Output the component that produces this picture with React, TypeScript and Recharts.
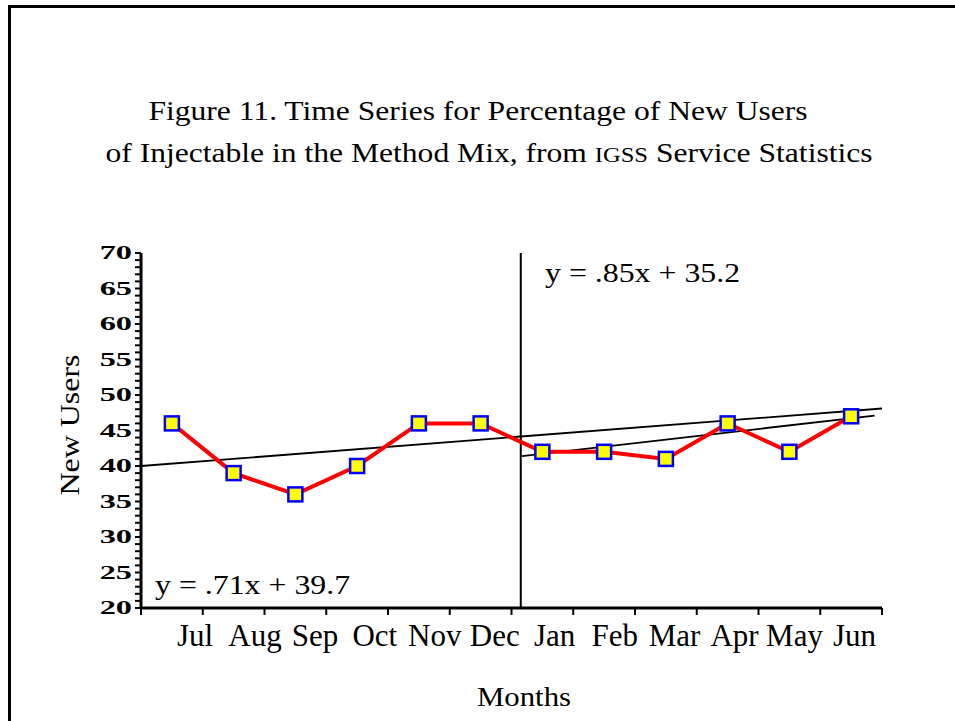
import { LineChart, Line, XAxis, YAxis, ReferenceLine } from "recharts";

const FONT = "'Liberation Serif', 'Times New Roman', serif";

const MONTHS = ["Jul", "Aug", "Sep", "Oct", "Nov", "Dec", "Jan", "Feb", "Mar", "Apr", "May", "Jun"];
const NEW_USERS = [46, 39, 36, 40, 46, 46, 42, 42, 41, 46, 42, 47];

// trend lines (x = month index, 1-based)
const TREND_ALL = [
  { x: 0.5, y: 40.0 },
  { x: 12.5, y: 48.1 },
];
const TREND_AFTER = [
  { x: 6.67, y: 41.4 },
  { x: 12.38, y: 47.1 },
];
const BREAK_X = 6.65;

const X_TICKS = [0.5, 1.5, 2.5, 3.5, 4.5, 5.5, 6.5, 7.5, 8.5, 9.5, 10.5, 11.5, 12.5];
const Y_TICKS = Array.from({ length: 51 }, (_, i) => 20 + i);

const data = MONTHS.map((m, i) => ({ x: i + 1, month: m, value: NEW_USERS[i] }));

function SquareDot(props: any) {
  const { cx, cy, index } = props;
  if (cx == null || cy == null) return null;
  return (
    <rect key={index} x={cx - 7} y={cy - 7} width={14} height={14} fill="#ffff00" stroke="#0000ff" strokeWidth={2.5} />
  );
}

// labels sit a bit right of the boundary ticks, drifting left along the axis
function MonthTick(props: any) {
  const { x, y, index } = props;
  if (index >= MONTHS.length) return null;
  return (
    <text x={x + 54 - index * 1.8} y={y + 29} textAnchor="middle" fontFamily={FONT} fontSize={31} fill="#000">
      {MONTHS[index]}
    </text>
  );
}

function ValueTick(props: any) {
  const { x, y, payload } = props;
  if (payload.value % 5 !== 0) return null;
  return (
    <text
      transform={`translate(${x}, ${y + 6}) scale(1.8, 1)`}
      textAnchor="end"
      fontFamily={FONT}
      fontSize={18}
      fontWeight="bold"
      fill="#000"
    >
      {payload.value}
    </text>
  );
}

export default function App() {
  return (
    <div style={{ position: "absolute", left: 0, top: 0, width: 955, height: 721, overflow: "hidden", background: "#fff" }}>
      <div
        style={{
          position: "absolute",
          left: 8,
          top: 5,
          width: 1000,
          height: 800,
          borderLeft: "3px solid #000",
          borderTop: "3px solid #000",
        }}
      />
      <div style={{ position: "absolute", left: 0, top: 0 }}>
        <LineChart width={955} height={721} data={data} margin={{ top: 253, right: 73, bottom: 33, left: 81 }}>
          <XAxis
            dataKey="x"
            type="number"
            domain={[0.5, 12.5]}
            ticks={X_TICKS}
            interval={0}
            height={80}
            tickSize={7}
            axisLine={{ stroke: "#000", strokeWidth: 3 }}
            tickLine={{ stroke: "#000", strokeWidth: 2 }}
            tick={<MonthTick />}
          />
          <XAxis xAxisId="top" orientation="top" dataKey="x" type="number" domain={[0.5, 12.5]} height={0} tick={false} tickLine={false} axisLine={{ stroke: "#000", strokeWidth: 2 }} />
          <YAxis
            type="number"
            domain={[20, 70]}
            ticks={Y_TICKS}
            interval={0}
            width={60}
            tickSize={6}
            tickMargin={3}
            axisLine={{ stroke: "#000", strokeWidth: 3 }}
            tickLine={{ stroke: "#000", strokeWidth: 2 }}
            tick={<ValueTick />}
          />
          <YAxis yAxisId="right" orientation="right" type="number" domain={[20, 70]} width={0} tick={false} tickLine={false} axisLine={{ stroke: "#000", strokeWidth: 2 }} />
          <ReferenceLine x={BREAK_X} stroke="#000" strokeWidth={2} />
          <ReferenceLine segment={TREND_ALL} stroke="#000" strokeWidth={1.8} ifOverflow="visible" />
          <ReferenceLine segment={TREND_AFTER} stroke="#000" strokeWidth={1.8} ifOverflow="visible" />
          <Line
            dataKey="value"
            stroke="#ff0000"
            strokeWidth={4}
            dot={<SquareDot />}
            activeDot={false}
            isAnimationActive={false}
          />
        </LineChart>
      </div>
      <svg width={955} height={721} style={{ position: "absolute", left: 0, top: 0, pointerEvents: "none" }}>
        <g fontFamily={FONT} fill="#000">
          <text transform="translate(478, 120) scale(1.17, 1)" textAnchor="middle" fontSize={27}>
            Figure 11. Time Series for Percentage of New Users
          </text>
          <text transform="translate(489, 162) scale(1.17, 1)" textAnchor="middle" fontSize={27}>
            of Injectable in the Method Mix, from <tspan fontSize={21}>IGSS</tspan> Service Statistics
          </text>
          <text transform="translate(79, 425) rotate(-90) scale(1.14, 1)" textAnchor="middle" fontSize={28}>
            New Users
          </text>
          <text transform="translate(524, 706) scale(1.14, 1)" textAnchor="middle" fontSize={27}>
            Months
          </text>
          <text transform="translate(545, 282) scale(1.18, 1)" fontSize={27}>
            y = .85x + 35.2
          </text>
          <text transform="translate(155, 594) scale(1.18, 1)" fontSize={27}>
            y = .71x + 39.7
          </text>
        </g>
      </svg>
    </div>
  );
}
